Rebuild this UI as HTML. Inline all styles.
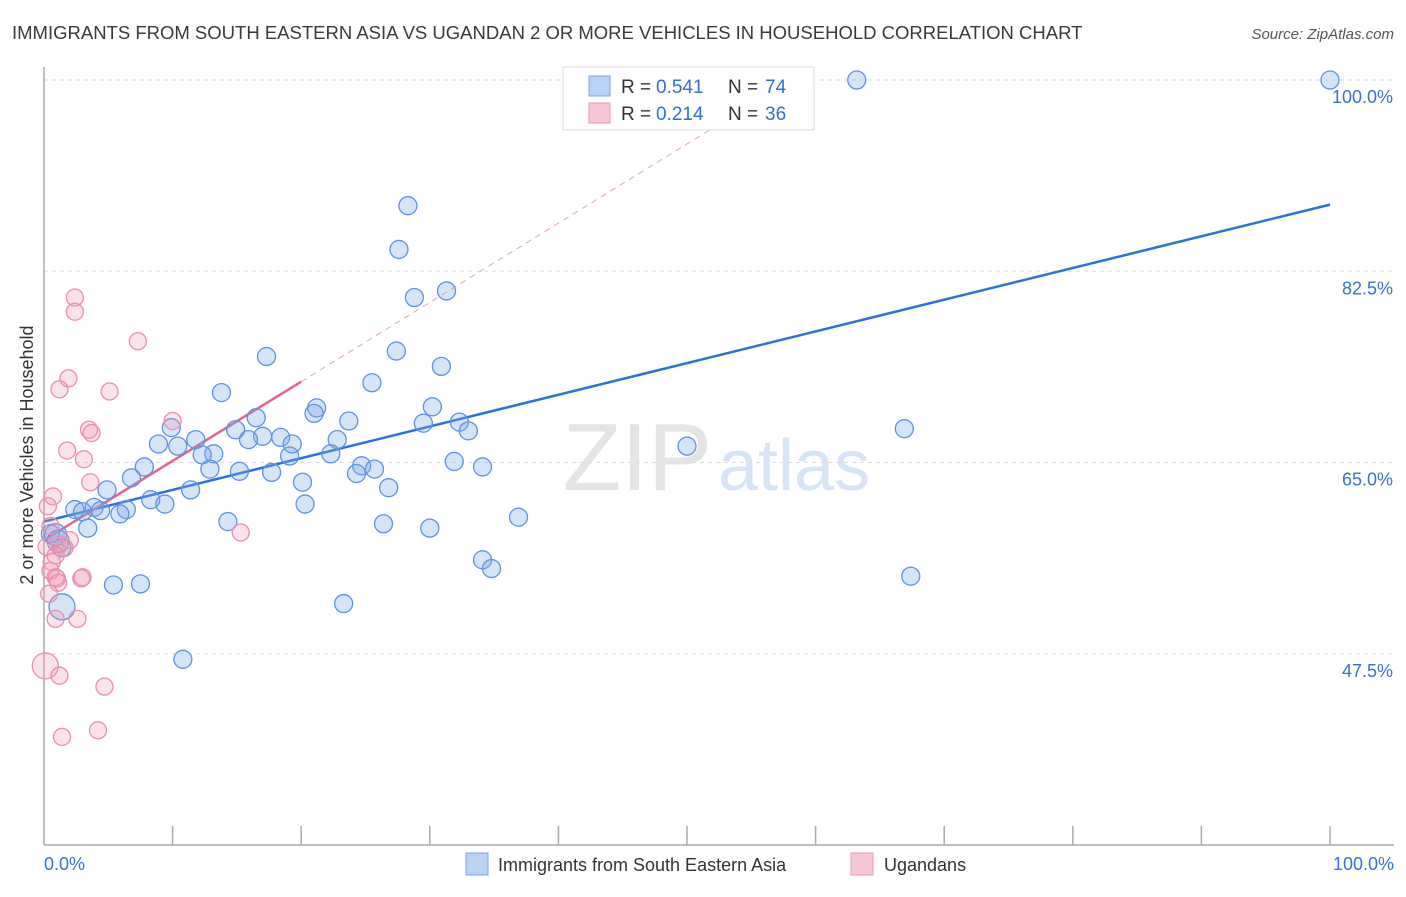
<!DOCTYPE html>
<html><head><meta charset="utf-8"><style>
body{margin:0;background:#fff;font-family:"Liberation Sans",sans-serif}
svg text{font-family:"Liberation Sans",sans-serif}
</style></head><body>
<svg id="chart" width="1406" height="892" xmlns="http://www.w3.org/2000/svg">
<text x="12" y="39" font-size="18.5" fill="#3a3a3a">IMMIGRANTS FROM SOUTH EASTERN ASIA VS UGANDAN 2 OR MORE VEHICLES IN HOUSEHOLD CORRELATION CHART</text>
<text x="1394" y="39" font-size="15" fill="#555" text-anchor="end" font-style="italic">Source: ZipAtlas.com</text>
<text x="712" y="490" font-size="96" fill="#e4e4e4" font-family="Liberation Serif" text-anchor="end">ZIP</text>
<text x="718" y="490" font-size="72" fill="#d6e4f5">atlas</text>
<text transform="translate(33,455) rotate(-90)" font-size="18" fill="#333" text-anchor="middle">2 or more Vehicles in Household</text>
<g id="grid"></g><g id="axes"></g><g id="trends"></g><g id="pts"></g>
<g>
<rect x="563" y="67" width="251" height="63" fill="#fff" stroke="#ddd"/>
<rect x="589" y="76" width="21" height="20" fill="#b8d3f5" stroke="#7aa6e0"/>
<rect x="589" y="103" width="21" height="20" fill="#f9c6d6" stroke="#eb9ab4"/>
<text x="621" y="93" font-size="19" fill="#333">R =</text>
<text x="656" y="93" font-size="19" fill="#2f6fd0">0.541</text>
<text x="728" y="93" font-size="19" fill="#333">N =</text>
<text x="765" y="93" font-size="19" fill="#2f6fd0">74</text>
<text x="621" y="120" font-size="19" fill="#333">R =</text>
<text x="656" y="120" font-size="19" fill="#2f6fd0">0.214</text>
<text x="728" y="120" font-size="19" fill="#333">N =</text>
<text x="765" y="120" font-size="19" fill="#2f6fd0">36</text>
</g>
<g>
<rect x="466" y="853" width="22" height="22" fill="#b8d3f5" stroke="#7aa6e0"/>
<text x="498" y="871" font-size="18" fill="#333">Immigrants from South Eastern Asia</text>
<rect x="851" y="853" width="22" height="22" fill="#f9c6d6" stroke="#eb9ab4"/>
<text x="884" y="871" font-size="18" fill="#333">Ugandans</text>
</g>
</svg>
<script>
const yTicks=[100,82.5,65,47.5];
const blueX=[63.2,100,28.3,27.6,28.8,31.3,27.4,17.3,30.9,25.5,13.8,30.2,21.2,21.0,16.5,23.7,32.3,29.5,33.0,9.9,14.9,18.4,17.0,11.8,15.9,19.3,22.8,8.9,10.4,13.2,12.3,19.1,22.3,31.9,34.1,12.9,15.2,17.7,7.8,24.7,25.7,24.3,6.8,20.1,26.8,4.9,11.4,8.3,9.4,20.3,3.9,2.4,3.0,4.4,6.4,5.9,36.9,14.3,26.4,30.0,3.4,0.5,1.4,34.1,34.8,5.4,7.5,23.3,10.8,50.0,66.9,67.4,0.9,1.4,1.1];
const blueY=[100,100,88.5,84.5,80.1,80.7,75.2,74.7,73.8,72.3,71.4,70.1,70.0,69.5,69.1,68.8,68.7,68.6,67.9,68.2,68.0,67.3,67.4,67.1,67.1,66.7,67.1,66.7,66.5,65.8,65.7,65.6,65.8,65.1,64.6,64.4,64.2,64.1,64.6,64.7,64.4,64.0,63.6,63.2,62.7,62.5,62.5,61.6,61.2,61.2,60.9,60.7,60.5,60.6,60.7,60.3,60.0,59.6,59.4,59.0,59.0,58.5,57.2,56.1,55.3,53.8,53.9,52.1,47.0,66.5,68.1,54.6,58.4,51.8,57.8];
const blueBig=[72,73,74];
const pinkX=[2.4,2.4,7.3,1.9,1.2,5.1,10.0,3.5,3.7,1.8,3.1,0.7,3.6,0.3,0.5,0.2,0.6,0.5,0.9,1.0,2.9,3.0,1.1,0.4,0.9,2.6,15.3,1.2,0.1,1.2,4.7,1.4,4.2,1.6,0.9,2.0];
const pinkY=[80.1,78.8,76.1,72.7,71.7,71.5,68.8,68.0,67.7,66.1,65.3,61.9,63.2,61.0,59.2,57.3,55.9,55.1,54.5,54.4,54.4,54.5,54.0,53.0,50.7,50.7,58.6,57.5,46.4,45.5,44.5,39.9,40.5,57.2,56.5,57.9];
const pinkBig=[28];
const blueTrend=[[0,59.6],[100,88.6]];
const pinkTrend=[[0,57.9],[20,72.4]];
const pinkDash=[[20,72.4],[52,95.6]];
const NS='http://www.w3.org/2000/svg';
const sx=v=>44+v*12.86, sy=v=>80+(100-v)*10.93;
function mk(tag,at,parent){const e=document.createElementNS(NS,tag);for(const k in at)e.setAttribute(k,at[k]);document.getElementById(parent).appendChild(e);return e;}
yTicks.forEach(t=>{
 const g=mk('line',{x1:44,x2:1394,y1:sy(t),y2:sy(t),stroke:'#ddd','stroke-dasharray':'4,4'},'grid');
 
 
 const l=mk('text',{x:1393,y:sy(t)+23,'font-size':18,fill:'#3a70d0','text-anchor':'end'},'grid');
 l.textContent=t.toFixed(1)+'%';
 
 
});
mk('line',{x1:44,x2:44,y1:67,y2:845,stroke:'#aaa','stroke-width':1.5},'axes');
mk('line',{x1:44,x2:1394,y1:845,y2:845,stroke:'#aaa','stroke-width':1.5},'axes');
for(let i=1;i<=10;i++){const t=mk('line',{x1:sx(i*10),x2:sx(i*10),y1:826,y2:845,stroke:'#aaa','stroke-width':1.5},'axes');
 
 }
const x0=mk('text',{x:44,y:870,'font-size':18,fill:'#3a70d0'},'axes');x0.textContent='0.0%';


const x1=mk('text',{x:1394,y:870,'font-size':18,fill:'#3a70d0','text-anchor':'end'},'axes');x1.textContent='100.0%';


function line(p,st,name){const l=mk('line',Object.assign({x1:sx(p[0][0]),y1:sy(p[0][1]),x2:sx(p[1][0]),y2:sy(p[1][1])},st),'trends');
 
 }
blueX.forEach((x,i)=>{const c=mk('circle',{cx:sx(x),cy:sy(blueY[i]),r:blueBig.includes(i)?(i==73?13:11):9,fill:'rgba(120,170,235,0.32)',stroke:'#5f92dc','stroke-width':1.3},'pts');
 
 });
pinkX.forEach((x,i)=>{const c=mk('circle',{cx:sx(x),cy:sy(pinkY[i]),r:pinkBig.includes(i)?13:8.5,fill:'rgba(245,150,180,0.28)',stroke:'#ea8fad','stroke-width':1.3},'pts');
 
 });
line(blueTrend,{stroke:'#2a72d8','stroke-width':2.5},'trend-sea');
line(pinkTrend,{stroke:'#e06590','stroke-width':2.5},'trend-ugandan');
line(pinkDash,{stroke:'#e8a0b8','stroke-width':1,'stroke-dasharray':'6,5'},'trend-ugandan-extension');
</script>
</body></html>
